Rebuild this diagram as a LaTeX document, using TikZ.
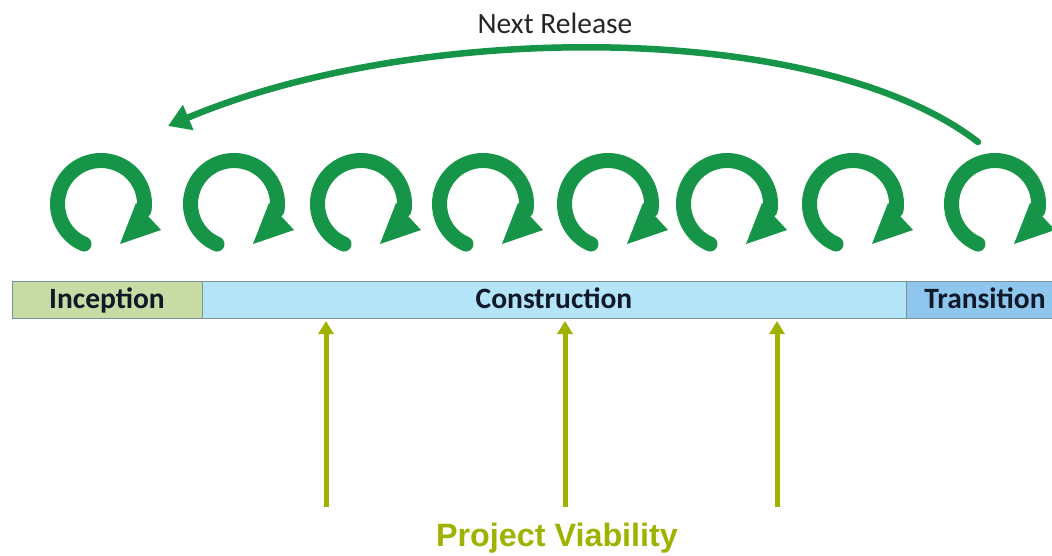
\documentclass[tikz,border=0pt]{standalone}
\usepackage{fontspec}
\setmainfont{Carlito}
\newfontfamily\arialfont{Liberation Sans}
\usetikzlibrary{arrows.meta}
\definecolor{loopgreen}{RGB}{22,148,72}
\definecolor{olivegreen}{RGB}{160,178,0}
\definecolor{incfill}{RGB}{198,220,164}
\definecolor{consfill}{RGB}{180,228,248}
\definecolor{transfill}{RGB}{142,198,238}
\definecolor{barborder}{RGB}{125,145,150}
\definecolor{labeltext}{RGB}{15,25,40}
\tikzset{
  phase/.style={draw=barborder, line width=1.4pt, anchor=north west, minimum height=37pt, inner sep=0pt},
  phaselabel/.style={font=\bfseries\fontsize{29.5}{34}\selectfont, text=labeltext, anchor=base},
  loopline/.style={draw=loopgreen, line width=15pt, line cap=round},
  relarrow/.style={draw=loopgreen, line width=6.5pt, line cap=round, -{Triangle[length=22pt,width=26pt]}},
  viabarrow/.style={draw=olivegreen, line width=5pt, -{Triangle[length=13pt,width=15pt]}},
}
\begin{document}
\begin{tikzpicture}[x=1pt,y=1pt]
\useasboundingbox (0,0) rectangle (1052,-555);
% phase bar
\node[phase, fill=incfill, minimum width=190pt] (inception) at (12,-281) {};
\node[phase, fill=consfill, minimum width=704pt] (construction) at (202,-281) {};
\node[phase, fill=transfill, minimum width=148pt] (transition) at (906,-281) {};
\node[phaselabel] (inclab) at (107,-308) {Inception};
\node[phaselabel] (conslab) at (554,-308) {Construction};
\node[phaselabel] (translab) at (985,-308) {Transition};
% iteration loops
\foreach \cx [count=\i] in {101,234,361,483,608,727,853,995} {
  \coordinate (loop\i) at (\cx,-204);
  \draw[loopline] (loop\i) ++(247:43.5pt) arc[start angle=247, end angle=-8, radius=43.5pt];
  \fill[loopgreen] (\cx+35,-203) -- (\cx+60,-230) -- (\cx+19,-244) -- cycle;
}
% next release arrow
\coordinate (relstart) at (978,-142);
\coordinate (relend) at (168,-126);
\draw[relarrow] (relstart) .. controls (820,-20) and (420,-20) .. (relend);
\node[font=\fontsize{29.5}{34}\selectfont, text=black!85, anchor=base] (nextrel) at (555,-33) {Next Release};
% project viability arrows
\node[font=\arialfont\bfseries\fontsize{32.3}{38}\selectfont, text=olivegreen, anchor=base] (viab) at (557,-546) {Project Viability};
\coordinate (v1s) at (326,-507); \coordinate (v1e) at (326,-321);
\coordinate (v2s) at (565,-507); \coordinate (v2e) at (565,-321);
\coordinate (v3s) at (777,-507); \coordinate (v3e) at (777,-321);
\draw[viabarrow] (v1s) -- (v1e);
\draw[viabarrow] (v2s) -- (v2e);
\draw[viabarrow] (v3s) -- (v3e);
\end{tikzpicture}
\end{document}
